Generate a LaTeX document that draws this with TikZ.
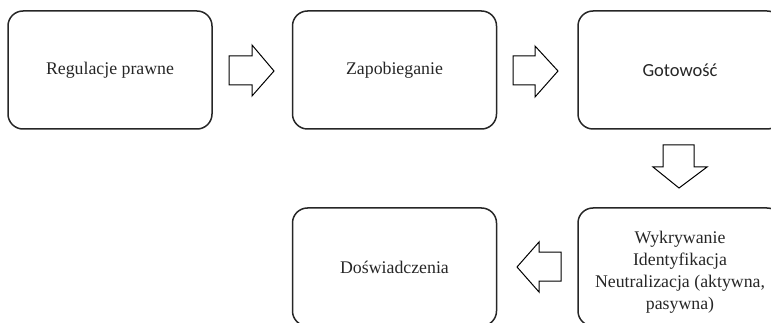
\documentclass[tikz,border=0pt]{standalone}
\usepackage{fontspec}
\setmainfont{Liberation Serif}
\newfontfamily\calib{Carlito}
\begin{document}
\begin{tikzpicture}[x=1pt,y=-1pt,
  box/.style={draw=black!85,line width=1.5pt,rounded corners=15pt,minimum width=204pt,minimum height=118pt,inner sep=0pt,align=center,font=\fontsize{17.8}{22}\selectfont,text=black!85},
  boxtext/.style={inner sep=0pt,align=center,font=\fontsize{17.8}{22}\selectfont,text=black!85},
  blockarrow/.style={draw=black,line width=1pt,fill=white,line join=miter}]
\useasboundingbox (0,0) rectangle (771,323);
\node[box] (b1) at (110,70) {Regulacje prawne};
\node[box] (b2) at (394.5,70) {Zapobieganie};
\node[box,font=\calib\fontsize{18.5}{22}\selectfont] (b3) at (680,70) {Gotowość};
\node[box] (b4) at (394.5,267) {Doświadczenia};
\node[box] (b5) at (680,267) {};
\node[boxtext] (t5) at ([yshift=-5pt]b5.center) {Wykrywanie\\Identyfikacja\\Neutralizacja (aktywna,\\pasywna)};
% right arrow 1
\draw[blockarrow] (229,56) -- (252,56) -- (252,45) -- (274,71) -- (252,96) -- (252,85) -- (229,85) -- cycle;
% right arrow 2
\draw[blockarrow] (513,56) -- (535,56) -- (535,46) -- (558,71) -- (535,97) -- (535,85) -- (513,85) -- cycle;
% down arrow
\draw[blockarrow] (663,145) -- (694,145) -- (694,167) -- (707,167) -- (679,188) -- (653,167) -- (663,167) -- cycle;
% left arrow
\draw[blockarrow] (561,252) -- (539,252) -- (539,242) -- (517,267) -- (539,292) -- (539,281) -- (561,281) -- cycle;
\end{tikzpicture}
\end{document}
